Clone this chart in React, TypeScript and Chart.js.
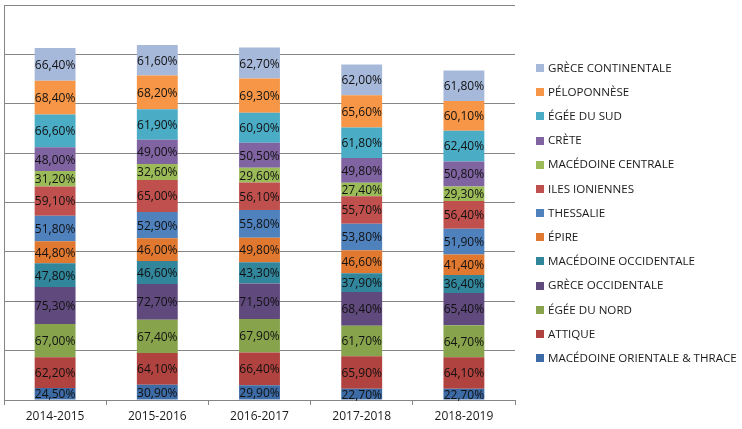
import React, { useEffect, useRef } from "react";
import { Chart, registerables } from "chart.js";

Chart.register(...registerables);

const categories = ["2014-2015", "2015-2016", "2016-2017", "2017-2018", "2018-2019"];

const seriesNames = [
  "MACÉDOINE ORIENTALE & THRACE",
  "ATTIQUE",
  "ÉGÉE DU NORD",
  "GRÈCE OCCIDENTALE",
  "MACÉDOINE OCCIDENTALE",
  "ÉPIRE",
  "THESSALIE",
  "ILES IONIENNES",
  "MACÉDOINE CENTRALE",
  "CRÈTE",
  "ÉGÉE DU SUD",
  "PÉLOPONNÈSE",
  "GRÈCE CONTINENTALE",
];

const macedoineOrientale = [24.5, 30.9, 29.9, 22.7, 22.7];
const attique = [62.2, 64.1, 66.4, 65.9, 64.1];
const egeeNord = [67.0, 67.4, 67.9, 61.7, 64.7];
const greceOccidentale = [75.3, 72.7, 71.5, 68.4, 65.4];
const macedoineOccidentale = [47.8, 46.6, 43.3, 37.9, 36.4];
const epire = [44.8, 46.0, 49.8, 46.6, 41.4];
const thessalie = [51.8, 52.9, 55.8, 53.8, 51.9];
const ilesIoniennes = [59.1, 65.0, 56.1, 55.7, 56.4];
const macedoineCentrale = [31.2, 32.6, 29.6, 27.4, 29.3];
const crete = [48.0, 49.0, 50.5, 49.8, 50.8];
const egeeSud = [66.6, 61.9, 60.9, 61.8, 62.4];
const peloponnese = [68.4, 68.2, 69.3, 65.6, 60.1];
const greceContinentale = [66.4, 61.6, 62.7, 62.0, 61.8];

const seriesValues = [
  macedoineOrientale,
  attique,
  egeeNord,
  greceOccidentale,
  macedoineOccidentale,
  epire,
  thessalie,
  ilesIoniennes,
  macedoineCentrale,
  crete,
  egeeSud,
  peloponnese,
  greceContinentale,
];

const colors = [
  "#3D6BA6",
  "#B0423F",
  "#87A44C",
  "#604A7D",
  "#31869C",
  "#E0782F",
  "#4F81BD",
  "#C0504D",
  "#9BBB59",
  "#8064A2",
  "#4BACC6",
  "#F79646",
  "#A7B9DA",
];

const yMax = 800;
const yStep = 100;

const FONT = "'Open Sans', 'DejaVu Sans', sans-serif";

const fmt = (v: number) => v.toFixed(2).replace(".", ",") + "%";

const labelPlugin = {
  id: "segLabels",
  afterDatasetsDraw(chart: any) {
    const ctx = chart.ctx;
    ctx.save();
    ctx.font = `12px ${FONT}`;
    ctx.fillStyle = "#111";
    ctx.textAlign = "center";
    ctx.textBaseline = "middle";
    chart.data.datasets.forEach((ds: any, i: number) => {
      const meta = chart.getDatasetMeta(i);
      meta.data.forEach((el: any, j: number) => {
        const v = ds.data[j];
        const yc = (el.y + el.base) / 2;
        ctx.fillText(fmt(v), el.x, yc + 1);
      });
    });
    ctx.restore();
  },
};

const legendPlugin = {
  id: "customLegend",
  afterDraw(chart: any) {
    const ctx = chart.ctx;
    const n = chart.data.datasets.length;
    const x0 = chart.chartArea.right + 21;
    const y0 = 68;
    const step = 24.17;
    ctx.save();
    ctx.font = `11.6px ${FONT}`;
    ctx.textAlign = "left";
    ctx.textBaseline = "middle";
    for (let k = 0; k < n; k++) {
      const i = n - 1 - k;
      const ds = chart.data.datasets[i];
      const y = y0 + k * step;
      ctx.fillStyle = ds.backgroundColor;
      ctx.fillRect(x0, Math.round(y - 4), 8, 8);
      ctx.fillStyle = "#1a1a1a";
      ctx.fillText(ds.label, x0 + 12, y + 0.5);
    }
    ctx.restore();
  },
};

export default function App() {
  const ref = useRef<HTMLCanvasElement>(null);

  useEffect(() => {
    document.body.style.margin = "0";
    const canvas = ref.current!;
    const chart = new Chart(canvas, {
      type: "bar",
      data: {
        labels: categories,
        datasets: seriesNames.map((name, i) => ({
          label: name,
          data: seriesValues[i],
          backgroundColor: colors[i],
          borderWidth: 0,
          barPercentage: 0.4,
          categoryPercentage: 1,
        })),
      },
      options: {
        responsive: false,
        animation: false,
        devicePixelRatio: 1,
        layout: { padding: { left: 4, top: 5, right: 227, bottom: 0 } },
        plugins: {
          legend: { display: false },
          tooltip: { enabled: false },
        },
        scales: {
          x: {
            stacked: true,
            grid: {
              display: true,
              drawOnChartArea: false,
              drawTicks: true,
              tickLength: 5,
              offset: true,
              color: "#868686",
            },
            border: { display: true, color: "#868686" },
            ticks: {
              font: { family: FONT, size: 12 },
              color: "#1a1a1a",
              padding: 4,
            },
            afterFit: (s: any) => {
              s.height = 29;
            },
          },
          y: {
            stacked: true,
            min: 0,
            max: yMax,
            ticks: { display: false, stepSize: yStep },
            grid: { color: "#868686", drawTicks: false },
            border: { display: true, color: "#868686" },
            afterFit: (s: any) => {
              s.width = 0;
            },
          },
        },
      },
      plugins: [labelPlugin, legendPlugin],
    });
    return () => chart.destroy();
  }, []);

  return (
    <div style={{ position: "fixed", left: 0, top: 0, width: 742, height: 429, background: "#fff" }}>
      <canvas ref={ref} width={742} height={429} style={{ display: "block" }} />
    </div>
  );
}
